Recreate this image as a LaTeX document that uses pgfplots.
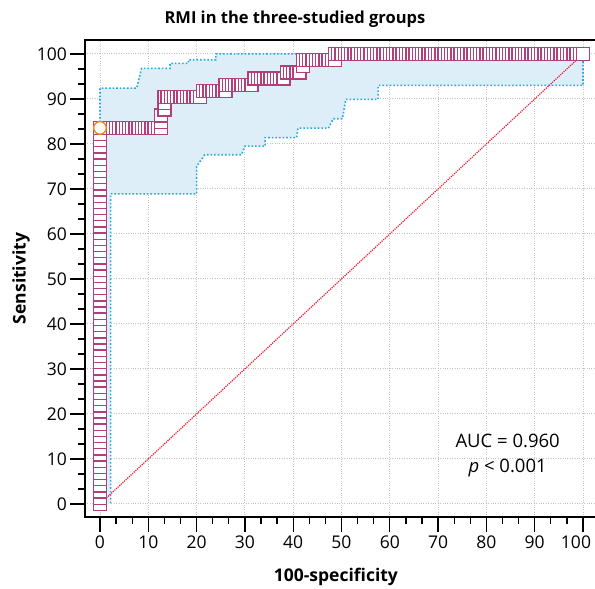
\documentclass[border=0pt]{standalone}
\usepackage{fontspec}
\setmainfont{Open Sans}
\usepackage{pgfplots}
\pgfplotsset{compat=1.18}

\definecolor{rocline}{RGB}{178,62,124}
\definecolor{bandfill}{RGB}{221,238,249}
\definecolor{bandline}{RGB}{35,168,228}
\definecolor{diagred}{RGB}{232,30,50}
\definecolor{optorange}{RGB}{240,140,30}
\definecolor{gridgray}{RGB}{195,195,195}

\begin{document}
\begin{tikzpicture}
\begin{axis}[
    scale only axis, width=512pt, height=477pt,
    xmin=-3.1, xmax=102.9, ymin=-2.9, ymax=103.1,
    xtick={0,10,...,100}, ytick={0,10,...,100},
    xticklabels={0,10,20,30,40,50,60,70,80,90,{\hspace*{-14pt}100}},
    minor tick num=2,
    tick align=outside, xtick pos=bottom, ytick pos=left,
    major tick length=15pt, minor tick length=7pt,
    tick style={black, line width=1.3pt},
    axis line style={line width=1.3pt},
    grid=major, grid style={gridgray, dotted, line width=0.9pt},
    ticklabel style={font=\fontsize{17.5}{20}\selectfont},
    yticklabel style={inner sep=3pt},
    /pgf/number format/assume math mode=true,
    title={RMI in the three-studied groups},
    title style={font=\bfseries\fontsize{16.5}{18}\selectfont, at={(axis description cs:0.41,1)}, anchor=center, yshift=15pt},
    xlabel={100-specificity},
    xlabel style={font=\bfseries\fontsize{17.5}{18}\selectfont, at={(axis description cs:0.49,0)}, anchor=center, yshift=-60pt},
    ylabel={Sensitivity},
    ylabel style={font=\bfseries\fontsize{17.5}{18}\selectfont, at={(axis description cs:-0.125,0.5)}, anchor=center},
]
% confidence band
\addplot[fill=bandfill, draw=none] coordinates {
  (0,0) (0,92.4) (7.6,92.4) (8.6,96.8) (14.5,96.8) (14.5,97.9) (18.3,97.9) (18.3,98.7)
  (24,98.7) (24,100) (100,100) (100,93) (57.6,93) (57.6,89.9) (50.9,89.9) (50.2,85.6)
  (48.3,85.6) (47.3,83.5) (41,83.5) (40.7,81.4) (34.2,81.4) (34.2,79.5) (30,79.5)
  (29.3,77.6) (21.7,77.6) (20,75) (20,68.9) (2.2,68.9) (2.2,0)} --cycle;
\addplot[bandline, dotted, line width=1.6pt] coordinates {
  (0,0) (0,92.4) (7.6,92.4) (8.6,96.8) (14.5,96.8) (14.5,97.9) (18.3,97.9) (18.3,98.7)
  (24,98.7) (24,100) (100,100) (100,93) (57.6,93) (57.6,89.9) (50.9,89.9) (50.2,85.6)
  (48.3,85.6) (47.3,83.5) (41,83.5) (40.7,81.4) (34.2,81.4) (34.2,79.5) (30,79.5)
  (29.3,77.6) (21.7,77.6) (20,75) (20,68.9) (2.2,68.9) (2.2,0)};
% reference line
\addplot[diagred, densely dotted, line width=1.2pt] coordinates {(0,0) (100,100)};
% ROC curve
\addplot[only marks, mark=square*, mark size=6.5pt,
    mark options={draw=rocline, fill=white, line width=1.4pt}] coordinates {
  (0,0) (0,1.37) (0,2.74) (0,4.11) (0,5.48) (0,6.85) (0,8.22) (0,9.59) (0,10.96) (0,12.33)
  (0,13.70) (0,15.07) (0,16.44) (0,17.81) (0,19.18) (0,20.55) (0,21.92) (0,23.29) (0,24.66)
  (0,26.03) (0,27.40) (0,28.77) (0,30.14) (0,31.51) (0,32.88) (0,34.25) (0,35.62) (0,36.99)
  (0,38.36) (0,39.73) (0,41.10) (0,42.47) (0,43.84) (0,45.21) (0,46.58) (0,47.95) (0,49.32)
  (0,50.68) (0,52.05) (0,53.42) (0,54.79) (0,56.16) (0,57.53) (0,58.90) (0,60.27) (0,61.64)
  (0,63.01) (0,64.38) (0,65.75) (0,67.12) (0,68.49) (0,69.86) (0,71.23) (0,72.60) (0,73.97)
  (0,75.34) (0,76.71) (0,78.08) (0,79.45) (0,80.82) (0,82.19) (0,83.56)
  (0.67,83.56) (1.33,83.56) (2,83.56) (2.67,83.56) (3.33,83.56) (4,83.56) (4.67,83.56)
  (5.33,83.56) (6,83.56) (6.67,83.56) (7.33,83.56) (8,83.56) (8.67,83.56) (9.33,83.56)
  (10,83.56) (10.67,83.56) (11.33,83.56) (12,83.56) (12.67,83.56)
  (12.67,84.93) (12.67,86.30) (13.33,87.67) (13.33,89.04) (13.33,90.41)
  (14,90.41) (14.67,90.41) (15.33,90.41) (16,90.41) (16.67,90.41) (17.33,90.41) (18,90.41)
  (18.67,90.41) (19.33,90.41) (20,90.41) (20.67,90.41)
  (21.33,91.78) (22,91.78) (22.67,91.78) (23.33,91.78) (24,91.78) (24.67,91.78) (25.33,91.78) (26,91.78)
  (26,93.15) (26.67,93.15) (27.33,93.15) (28,93.15) (28.67,93.15) (29.33,93.15) (30,93.15)
  (30.67,93.15) (31.33,93.15)
  (32,94.52) (32.67,94.52) (33.33,94.52) (34,94.52) (34.67,94.52) (35.33,94.52) (36,94.52)
  (36.67,94.52) (37.33,94.52) (38,94.52)
  (38.67,95.89) (39.33,95.89) (40,95.89) (40.67,95.89) (41.33,95.89)
  (42,97.26)
  (42,98.63) (42.67,98.63) (43.33,98.63) (44,98.63) (44.67,98.63) (45.33,98.63) (46,98.63)
  (46.67,98.63) (47.33,98.63) (48,98.63) (48.67,98.63)
  (48.67,100) (49.33,100) (50,100) (50.67,100) (51.33,100) (52,100) (52.67,100) (53.33,100)
  (54,100) (54.67,100) (55.33,100) (56,100) (56.67,100) (57.33,100) (58,100) (58.67,100)
  (59.33,100) (60,100) (60.67,100) (61.33,100) (62,100) (62.67,100) (63.33,100) (64,100)
  (64.67,100) (65.33,100) (66,100) (66.67,100) (67.33,100) (68,100) (68.67,100) (69.33,100)
  (70,100) (70.67,100) (71.33,100) (72,100) (72.67,100) (73.33,100) (74,100) (74.67,100)
  (75.33,100) (76,100) (76.67,100) (77.33,100) (78,100) (78.67,100) (79.33,100) (80,100)
  (80.67,100) (81.33,100) (82,100) (82.67,100) (83.33,100) (84,100) (84.67,100) (85.33,100)
  (86,100) (86.67,100) (87.33,100) (88,100) (88.67,100) (89.33,100) (90,100) (90.67,100)
  (91.33,100) (92,100) (92.67,100) (93.33,100) (94,100) (94.67,100) (95.33,100) (96,100)
  (96.67,100) (97.33,100) (98,100) (98.67,100) (99.33,100) (100,100)};
% optimal criterion
\addplot[only marks, mark=*, mark size=6.3pt,
    mark options={draw=optorange, fill=white, line width=1.4pt}] coordinates {(0,83.56)};
\node[font=\fontsize{18.5}{25}\selectfont, align=center] at (axis cs:84.4,10.8)
  {AUC = 0.960\\\textit{p} < 0.001};
\end{axis}
\pgfresetboundingbox
\path[use as bounding box] ([xshift=-85pt,yshift=-72pt]current axis.south west) rectangle ++(595pt,589pt);
\end{tikzpicture}
\end{document}
